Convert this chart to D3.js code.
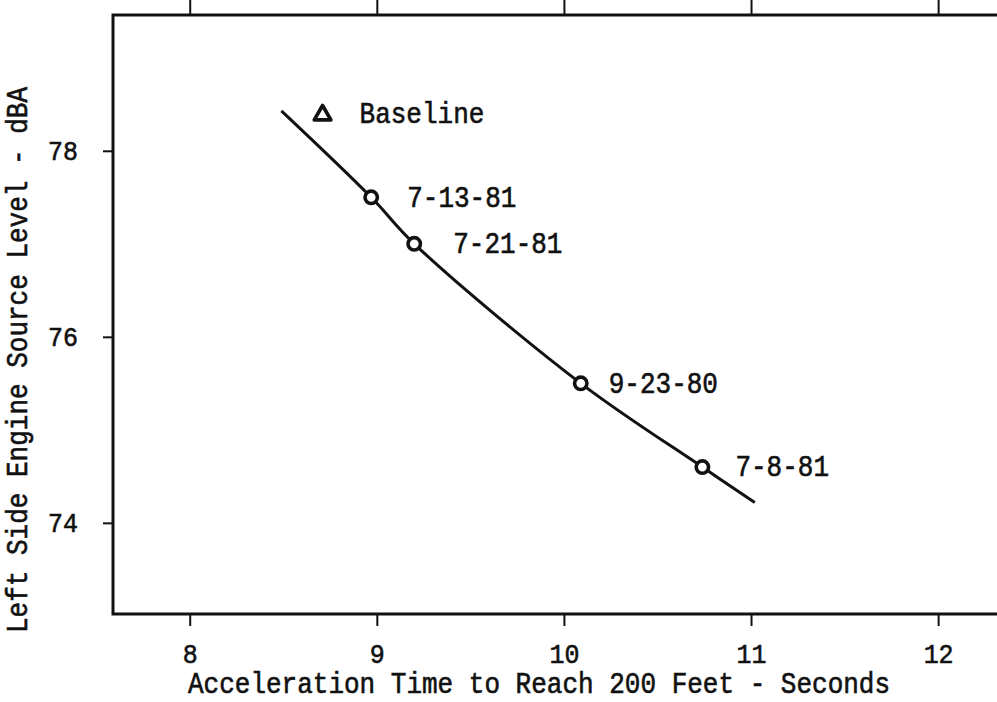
<!DOCTYPE html>
<html>
<head>
<meta charset="utf-8">
<script src="https://cdn.jsdelivr.net/npm/d3@7"></script>
<style>
  html, body { margin: 0; padding: 0; background: #fff; }
  svg text { font-family: "Liberation Mono", "Courier New", monospace; fill: #111; }
</style>
</head>
<body>
<svg id="chart" width="997" height="702"></svg>
<script>
// Acceleration time vs. left-side engine source level
const runLabels = ["7-13-81", "7-21-81", "9-23-80", "7-8-81"];
const runTime   = [8.97, 9.20, 10.09, 10.74];   // seconds to 200 ft
const runLevel  = [77.50, 77.00, 75.50, 74.60]; // dBA

const baselineLabel = "Baseline";
const baselineTime  = 8.71;
const baselineLevel = 78.40;

// fitted trend curve
const trendTime  = [8.49, 8.97, 9.20, 10.09, 10.74, 11.02];
const trendLevel = [78.43, 77.50, 77.00, 75.50, 74.60, 74.22];

const xTicks = [8, 9, 10, 11, 12];
const yTicks = [74, 76, 78];

const xTitle = "Acceleration Time to Reach 200 Feet - Seconds";
const yTitle = "Left Side Engine Source Level - dBA";

const svg = d3.select("#chart");
const plotLeft = 113, plotTop = 15, plotRight = 998, plotBottom = 614;

const x = d3.scaleLinear().domain([7.59, 12.32]).range([plotLeft, plotRight]);
const y = d3.scaleLinear().domain([73.02, 79.46]).range([plotBottom, plotTop]);

const ink = "#111";
const stretch = 1.1;   // typewriter face is a little taller than the mono font

function typeText(sel, size) {
  return sel.attr("font-size", size).attr("fill", ink)
    .attr("stroke", ink).attr("stroke-width", 0.55);
}

// axes with outward ticks
const gx = svg.append("g").attr("transform", `translate(0,${plotBottom})`)
  .call(d3.axisBottom(x).tickValues(xTicks).tickSize(12).tickPadding(19).tickFormat(d3.format("d")));
const gxTop = svg.append("g").attr("transform", `translate(0,${plotTop})`)
  .call(d3.axisTop(x).tickValues(xTicks).tickSize(16).tickFormat(""));
const gy = svg.append("g").attr("transform", `translate(${plotLeft},0)`)
  .call(d3.axisLeft(y).tickValues(yTicks).tickSize(10).tickPadding(25).tickFormat(d3.format("d")));

[gx, gxTop, gy].forEach(g => {
  g.select(".domain").remove();
  g.selectAll(".tick line").attr("stroke", ink).attr("stroke-width", 2);
  typeText(g.selectAll("text"), 25).attr("transform", `scale(1,${stretch})`);
});
// bottom labels: y is divided by the stretch so the glyph top lands ~33px below the frame
gx.selectAll("text").attr("y", 27).attr("dy", "0.71em");
gy.selectAll("text").attr("dy", "0.33em");

// frame: top, left, bottom (open on the right)
svg.append("path")
  .attr("d", `M${plotRight},${plotTop}H${plotLeft}V${plotBottom}H${plotRight}`)
  .attr("fill", "none").attr("stroke", ink).attr("stroke-width", 3);

// axis titles
typeText(svg.append("text"), 26)
  .attr("transform", `translate(188,693) scale(1,${stretch})`)
  .text(xTitle);
typeText(svg.append("text"), 26)
  .attr("transform", `translate(27,633) rotate(-90) scale(1,${stretch})`)
  .text(yTitle);

// trend curve
const trend = trendTime.map((t, i) => [t, trendLevel[i]]);
svg.append("path")
  .datum(trend)
  .attr("d", d3.line().x(d => x(d[0])).y(d => y(d[1])).curve(d3.curveCatmullRom.alpha(0.5)))
  .attr("fill", "none").attr("stroke", ink).attr("stroke-width", 3);

// run markers and date labels
const labelDx = [36, 39, 28, 33];
const runs = runLabels.map((l, i) => ({ label: l, t: runTime[i], v: runLevel[i], dx: labelDx[i] }));
svg.selectAll("circle.run").data(runs).join("circle")
  .attr("class", "run")
  .attr("cx", d => x(d.t)).attr("cy", d => y(d.v)).attr("r", 6.2)
  .attr("fill", "#fff").attr("stroke", ink).attr("stroke-width", 3.6);
typeText(svg.selectAll("text.run").data(runs).join("text").attr("class", "run"), 26)
  .attr("transform", d => `translate(${x(d.t) + d.dx},${y(d.v)}) scale(1,${stretch})`)
  .attr("dy", "0.33em")
  .text(d => d.label);

// baseline marker
const bx = x(baselineTime), by = y(baselineLevel);
svg.append("path")
  .attr("d", d3.symbol().type(d3.symbolTriangle).size(120)())
  .attr("transform", `translate(${bx},${by + 1.5})`)
  .attr("fill", "#fff").attr("stroke", ink).attr("stroke-width", 3.6).attr("stroke-linejoin", "round");
typeText(svg.append("text"), 26)
  .attr("transform", `translate(${bx + 37},${by}) scale(1,${stretch})`)
  .attr("dy", "0.33em")
  .text(baselineLabel);
</script>
</body>
</html>
